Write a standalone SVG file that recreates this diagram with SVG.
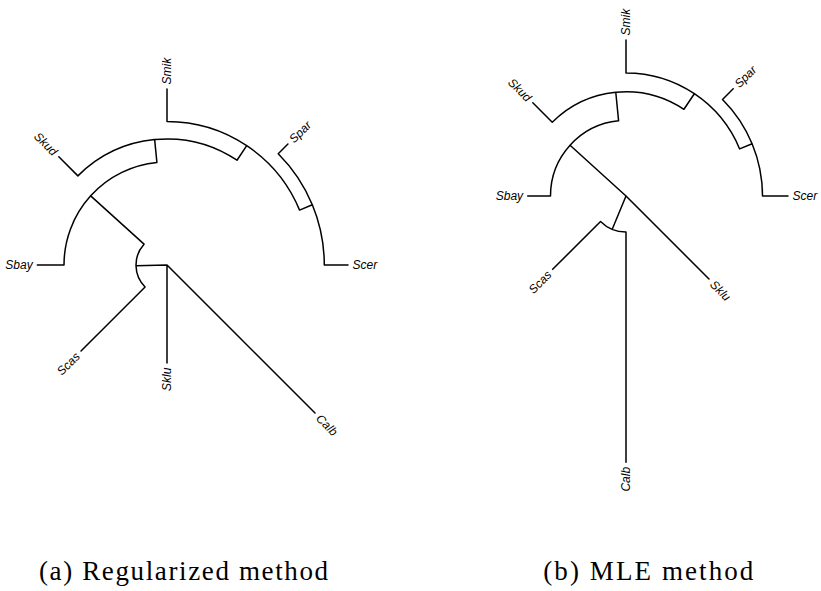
<svg xmlns="http://www.w3.org/2000/svg" width="821" height="591" viewBox="0 0 821 591">
<style>
.e{fill:none;stroke:#000;stroke-width:1.5;stroke-linecap:round}
.l{font-family:"Liberation Sans",Arial,sans-serif;font-style:italic;font-size:12px;fill:#000}
.s{text-anchor:start}
.n{text-anchor:end}
.cap{font-family:"Liberation Serif","Times New Roman",serif;font-size:27px;fill:#000}
</style>
<rect width="821" height="591" fill="#fff"/>
<g id="tree-a-edges">
<path class="e" d="M167,265 L167,363 M167,265 L315,413 M167,265 L136.01,265.76
M144.03,244.18 A31,31 0 0 0 145.08,286.92 M145.08,286.92 L81.02,350.98 M144.03,244.18 L90.68,195.83
M156.90,162.50 A103,103 0 0 0 64,265 M64,265 L37.3,265 M156.90,162.50 L154.65,139.61
M237.00,160.23 A126,126 0 0 0 77.90,175.90 M77.90,175.90 L58.81,156.81 M237.00,160.23 L246.72,145.68
M299.58,210.09 A143.5,143.5 0 0 0 167,121.5 M167,121.5 L167,89 M299.58,210.09 L312.33,204.80
M324.3,265 A157.3,157.3 0 0 0 278.23,153.77 M324.3,265 L348,265 M278.23,153.77 L287.92,144.08"/>
</g>
<g id="a-Sbay"><text class="l n" x="32.7" y="265" dy="0.35em">Sbay</text></g>
<g id="a-Scas"><text class="l n" x="77.76" y="354.24" dy="0.35em" transform="rotate(-45 77.76 354.24)">Scas</text></g>
<g id="a-Sklu"><text class="l n" x="167" y="367.6" dy="0.35em" transform="rotate(-90 167 367.6)">Sklu</text></g>
<g id="a-Calb"><text class="l s" x="318.25" y="416.25" dy="0.35em" transform="rotate(45 318.25 416.25)">Calb</text></g>
<g id="a-Skud"><text class="l n" x="55.56" y="153.56" dy="0.35em" transform="rotate(45 55.56 153.56)">Skud</text></g>
<g id="a-Smik"><text class="l s" x="167" y="84.4" dy="0.35em" transform="rotate(-90 167 84.4)">Smik</text></g>
<g id="a-Spar"><text class="l s" x="291.17" y="140.83" dy="0.35em" transform="rotate(-45 291.17 140.83)">Spar</text></g>
<g id="a-Scer"><text class="l s" x="352.6" y="265" dy="0.35em">Scer</text></g>

<g id="tree-b-edges">
<path class="e" d="M626,196 L570.06,145.30 M626,196 L709.01,279.01 M626,196 L612.22,229.26
M600.54,221.46 A36,36 0 0 0 626,232 M600.54,221.46 L552.67,269.33 M626,232 L626,462.3
M618.60,120.86 A75.5,75.5 0 0 0 550.5,196 M550.5,196 L527.7,196 M618.60,120.86 L615.78,92.20
M683.95,109.28 A104.3,104.3 0 0 0 552.25,122.25 M552.25,122.25 L532.80,102.80 M683.95,109.28 L694.34,93.73
M739.64,148.93 A123,123 0 0 0 626,73 M626,73 L626,40 M739.64,148.93 L752.11,143.76
M762.5,196 A136.5,136.5 0 0 0 722.52,99.48 M762.5,196 L788,196 M722.52,99.48 L733.20,88.80"/>
</g>
<g id="b-Sbay"><text class="l n" x="523.1" y="196" dy="0.35em">Sbay</text></g>
<g id="b-Scas"><text class="l n" x="549.42" y="272.58" dy="0.35em" transform="rotate(-45 549.42 272.58)">Scas</text></g>
<g id="b-Calb"><text class="l n" x="626" y="466.9" dy="0.35em" transform="rotate(-90 626 466.9)">Calb</text></g>
<g id="b-Sklu"><text class="l s" x="712.27" y="282.27" dy="0.35em" transform="rotate(45 712.27 282.27)">Sklu</text></g>
<g id="b-Scer"><text class="l s" x="792.6" y="196" dy="0.35em">Scer</text></g>
<g id="b-Spar"><text class="l s" x="736.45" y="85.55" dy="0.35em" transform="rotate(-45 736.45 85.55)">Spar</text></g>
<g id="b-Smik"><text class="l s" x="626" y="35.4" dy="0.35em" transform="rotate(-90 626 35.4)">Smik</text></g>
<g id="b-Skud"><text class="l n" x="529.55" y="99.55" dy="0.35em" transform="rotate(45 529.55 99.55)">Skud</text></g>

<g id="caption-a"><text class="cap" x="39" y="580" textLength="289" lengthAdjust="spacing">(a) Regularized method</text></g>
<g id="caption-b"><text class="cap" x="543.3" y="580" textLength="210" lengthAdjust="spacing">(b) MLE method</text></g>
</svg>
